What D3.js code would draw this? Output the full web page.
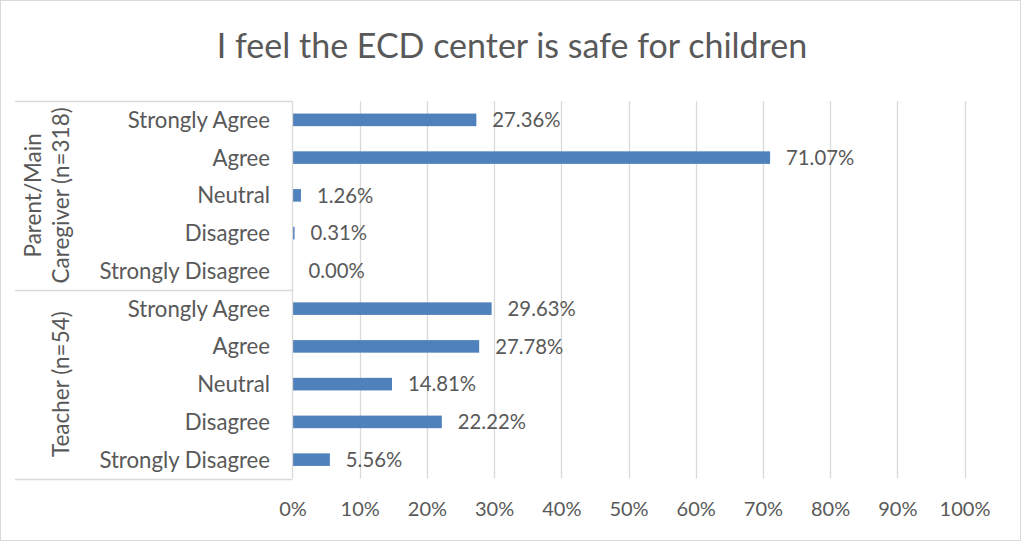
<!DOCTYPE html>
<html><head><meta charset="utf-8">
<script src="https://cdn.jsdelivr.net/npm/d3@7"></script>
<style>body{margin:0;background:#fff;} text{font-family:Lato, "Open Sans", sans-serif;}</style>
</head><body>
<svg id="c" width="1021" height="541"></svg>
<script>
const title = "I feel the ECD center is safe for children";
const groups = ["Parent/Main Caregiver (n=318)", "Teacher (n=54)"];
const groupLines = [["Parent/Main", "Caregiver (n=318)"], ["Teacher (n=54)"]];
const responses = ["Strongly Agree", "Agree", "Neutral", "Disagree", "Strongly Disagree"];
const parentValues = [27.36, 71.07, 1.26, 0.31, 0.00];
const teacherValues = [29.63, 27.78, 14.81, 22.22, 5.56];
const xTicks = [0, 10, 20, 30, 40, 50, 60, 70, 80, 90, 100];

const rows = [];
responses.forEach((r, i) => rows.push({g: 0, r, v: parentValues[i], key: "0-" + i}));
responses.forEach((r, i) => rows.push({g: 1, r, v: teacherValues[i], key: "1-" + i}));

const svg = d3.select("#c");
const txt = "#595959", grid = "#d9d9d9", barC = "#4f81bd";
const L = 292.5, R = 964.5, T = 101, B = 478.5;

svg.append("rect").attr("x", 0.5).attr("y", 0.5).attr("width", 1020).attr("height", 540)
  .attr("fill", "#fff").attr("stroke", grid);

svg.append("text").attr("x", 512).attr("y", 58).attr("text-anchor", "middle")
  .attr("font-size", 34).attr("fill", txt).text(title);

const x = d3.scaleLinear().domain([0, 100]).range([L, R]);
const y = d3.scaleBand().domain(rows.map(d => d.key)).range([T, B]).paddingInner(0.667).paddingOuter(0.333);

// gridlines
svg.append("g").selectAll("line").data(xTicks.slice(1)).join("line")
  .attr("x1", d => Math.round(x(d)) + 0.5).attr("x2", d => Math.round(x(d)) + 0.5)
  .attr("y1", T).attr("y2", B).attr("stroke", grid).attr("stroke-width", 1.3);

// x axis labels
const xa = svg.append("g").attr("transform", `translate(0,${B})`)
  .call(d3.axisBottom(x).tickValues(xTicks).tickFormat(d => d + "%").tickSize(0).tickPadding(23));
xa.select(".domain").remove();
xa.selectAll("text").attr("font-size", 20).attr("fill", txt).attr("font-family", "Lato, sans-serif");

// bars
svg.append("g").selectAll("rect").data(rows).join("rect")
  .attr("x", x(0)).attr("y", d => y(d.key)).attr("width", d => x(d.v) - x(0))
  .attr("height", y.bandwidth()).attr("fill", barC);

// value labels
svg.append("g").selectAll("text").data(rows).join("text")
  .attr("x", d => x(d.v) + 16).attr("y", d => y(d.key) + y.bandwidth() / 2)
  .attr("dy", "0.36em").attr("font-size", 20.3).attr("fill", txt)
  .text(d => d.v.toFixed(2) + "%");

// category labels
svg.append("g").selectAll("text").data(rows).join("text")
  .attr("x", 270).attr("y", d => y(d.key) + y.bandwidth() / 2)
  .attr("dy", "0.36em").attr("text-anchor", "end").attr("font-size", 22.2).attr("fill", txt)
  .text(d => d.r);

// category axis lines
const step = y.step();
const sepY = [T, T + step * 5, B];
svg.append("g").selectAll("line").data(sepY).join("line")
  .attr("x1", 15).attr("x2", L).attr("y1", d => Math.round(d) + 0.5).attr("y2", d => Math.round(d) + 0.5)
  .attr("stroke", grid).attr("stroke-width", 1.3);
svg.append("line").attr("x1", L).attr("x2", L).attr("y1", T).attr("y2", B)
  .attr("stroke", grid).attr("stroke-width", 1.3);

// group labels
groups.forEach((g, gi) => {
  const cy = T + step * 5 * gi + step * 2.5;
  const lines = groupLines[gi];
  const t = svg.append("text").attr("transform", `translate(0,${cy}) rotate(-90)`)
    .attr("text-anchor", "middle").attr("font-size", 22.5).attr("fill", txt);
  const n = lines.length;
  lines.forEach((ln, li) => {
    const base = n === 1 ? 69 : (li === 0 ? 41 : 69);
    t.append("tspan").attr("x", 0).attr("y", base).text(ln);
  });
});
</script>
</body></html>
